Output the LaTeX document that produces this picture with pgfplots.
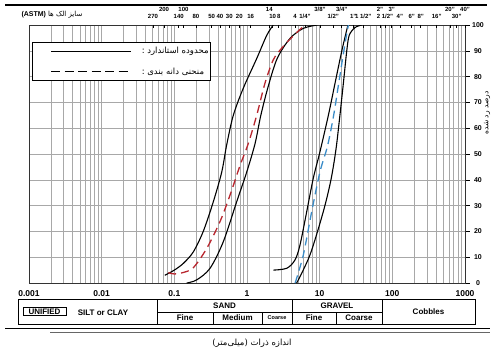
\documentclass[border=0pt]{standalone}
\usepackage{fontspec}
\setmainfont{Liberation Sans}
\newfontfamily\fa[Script=Arabic]{DejaVu Sans}
\usepackage{pgfplots}
\pgfplotsset{compat=1.18}
\TeXXeTstate=1
\definecolor{rd}{HTML}{B8262E}
\definecolor{bl}{HTML}{3A8CC8}
\definecolor{gridc}{HTML}{A8A8A8}
\newcommand\fs[1]{\fontsize{#1}{#1}\selectfont}
\begin{document}
\begin{tikzpicture}[x=1pt,y=1pt]
\useasboundingbox (0,0) rectangle (492,354);
% frame lines
\draw[line width=1.3pt] (5,349) -- (487,349);
\draw[line width=1.3pt] (5,25.2) -- (490,25.2);
\draw[line width=0.5pt, black!60] (50,22.2) -- (490,22.2);
% top-left label
\node[inner sep=0pt] at (52,339) {\fs{7}\beginR{\fa سایز الک ها} \beginL{\bfseries (ASTM)}\endL\endR};

\begin{axis}[
  at={(29pt,71pt)}, anchor=south west,
  scale only axis, width=436pt, height=258pt,
  xmode=log, xmin=0.001, xmax=1000, ymin=0, ymax=100,
  xtick={0.001,0.01,0.1,1,10,100,1000},
  xticklabels={0.001,0.01,0.1,1,10,100,1000},
  xticklabel style={font=\bfseries\fs{8.5}, anchor=center, yshift=-6pt, inner sep=0pt},
  ytick={0,10,20,30,40,50,60,70,80,90,100},
  yticklabels={0,10,20,30,40,50,60,70,80,90,100},
  yticklabel pos=right, ytick pos=right, xtick pos=bottom,
  yticklabel style={font=\bfseries\fs{7}, anchor=center, xshift=8pt, inner sep=0pt},
  xmajorgrids, xminorgrids, ymajorgrids,
  grid style={gridc, line width=0.5pt},
  minor grid style={gridc, line width=0.5pt},
  xtick style={draw=none},
  ytick style={black, line width=0.6pt},
  major tick length=5pt, tick align=outside,
  axis line style={black!80, line width=0.6pt},
  legend style={at={(0.0069,0.935)}, anchor=north west, draw=black, line width=1.3pt,
    fill=white, inner xsep=2pt, inner ysep=5pt, nodes={inner sep=0pt},
    column sep=10pt, row sep=12.5pt, font=\fa\fs{8.5}, cells={anchor=west}},
  legend image code/.code={\path (0pt,0pt); \draw[#1] (16pt,0pt) -- (96pt,0pt);},
]
\addlegendimage{black, line width=1.1pt}
\addlegendentry{\beginR محدوده استاندارد :\endR}
\addlegendimage{black, line width=1.1pt, dash pattern=on 9pt off 4.5pt}
\addlegendentry{\beginR منحنی دانه بندی :\endR}

% sand envelope (left)
\addplot[black, line width=1.1pt, smooth, forget plot] coordinates {
(0.074,3) (0.100,5) (0.133,7.6) (0.182,12) (0.25,20) (0.344,31.5) (0.449,43)
(0.525,53.5) (0.648,65) (0.889,75.5) (1.36,87) (1.87,96) (2.3,100)};
% sand envelope (right)
\addplot[black, line width=1.1pt, smooth, forget plot] coordinates {
(0.148,0) (0.203,1.2) (0.31,5.7) (0.472,16) (0.721,31.5) (0.991,43) (1.29,54)
(1.55,65) (1.95,76) (2.6,87) (3.91,94.8) (5.96,98.7) (9.3,100)};
% sand grading curve
\addplot[rd, line width=1.3pt, dash pattern=on 8pt off 5pt, smooth, forget plot] coordinates {
(0.0826,4) (0.1,3.5) (0.13,4) (0.182,5.9) (0.279,13.4) (0.425,23.8) (0.583,34)
(0.801,45.5) (1.04,54) (1.36,65) (1.77,77.5) (2.3,86.5) (3.0,91) (3.91,94.5)
(5.0,97.5) (6.3,100)};
% gravel envelope (left)
\addplot[black, line width=1.1pt, smooth, forget plot] coordinates {
(2.30,5) (3.52,5.7) (4.57,8.9) (5.36,14.7) (6.63,27.6) (8.17,40.6) (10.1,50.9)
(13.2,65.1) (16.4,77.9) (20.4,90.6) (24.5,100)};
% gravel envelope (right)
\addplot[black, line width=1.1pt, smooth, forget plot] coordinates {
(4.83,0) (7.36,10.9) (11.2,27.6) (14.3,40) (16.8,52) (19.0,65) (21.3,78)
(23.6,90) (25.5,96) (30.6,99) (37.9,100)};
% gravel grading curve
\addplot[bl, line width=1.3pt, dash pattern=on 8pt off 5pt, smooth, forget plot] coordinates {
(4.6,0) (5.96,10.9) (7.76,27.6) (10.1,43.1) (12.8,53) (15.6,65.1) (18.4,77.9)
(21.7,90.6) (24.8,100)};
\end{axis}

% sieve labels, lower row
\begin{axis}[at={(29pt,71pt)}, anchor=south west, scale only axis,
  width=436pt, height=258pt, xmode=log, xmin=0.001, xmax=1000, ymin=0, ymax=100,
  axis y line=none, axis x line*=top, x axis line style={draw=none},
  xtick style={black, line width=0.5pt},
  major tick length=3pt, tick align=inside,
  xticklabel style={font=\bfseries\fs{6}, anchor=center, inner sep=0pt, yshift=9pt},
  xtick={0.0508,0.1148,0.1986,0.3266,0.4249,0.571,0.783,1.125,2.255,2.73,4.57,6.28,15.4,29.0,39.8,79.3,127,184.6,245.6,407.6,768},
  xticklabels={270,140,80,50,40,30,20,16,10,8,4,1/4",1/2",1",1 1/2",2 1/2",4",6",8",16",30"}]
\end{axis}
% sieve labels, upper row
\begin{axis}[at={(29pt,71pt)}, anchor=south west, scale only axis,
  width=436pt, height=258pt, xmode=log, xmin=0.001, xmax=1000, ymin=0, ymax=100,
  axis y line=none, axis x line*=top, x axis line style={draw=none},
  xtick style={black, line width=0.5pt},
  major tick length=3pt, tick align=inside,
  xticklabel style={font=\bfseries\fs{6}, anchor=center, inner sep=0pt, yshift=16pt},
  xtick={0.0721,0.1334,2.027,10.1,20.1,67.6,98,621,1000},
  xticklabels={200,100,14,3/8",3/4",2",3",20",40"}]
\end{axis}

% right axis title
\node[rotate=90, inner sep=0pt] at (487,241) {\fa\fs{7.5}\beginR درصد رد شده\endR};

% classification table
\begin{scope}[line width=0.8pt]
\draw (18,30) rectangle (475,54.5);
\draw (157,30) -- (157,54.5);
\draw (292,30) -- (292,54.5);
\draw (382,30) -- (382,54.5);
\draw (157,42) -- (382,42);
\draw (213,30) -- (213,42);
\draw (262,30) -- (262,42);
\draw (336,30) -- (336,42);
\draw (23,38.2) rectangle (66,46.5);
\end{scope}
\begin{scope}[every node/.style={inner sep=0pt, font=\bfseries\fs{8}}]
\node at (44.5,42.3) {UNIFIED};
\node at (103,41.5) {SILT or CLAY};
\node at (224.5,48.2) {SAND};
\node at (337,48.2) {GRAVEL};
\node at (185,36) {Fine};
\node at (237.5,36) {Medium};
\node[font=\bfseries\fs{5.5}] at (277,36) {Coarse};
\node at (314,36) {Fine};
\node at (359,36) {Coarse};
\node at (428.5,42) {Cobbles};
\end{scope}

% bottom title
\node[inner sep=0pt] at (252,11) {\fa\fs{8.5}\beginR اندازه ذرات (میلی‌متر)\endR};
\end{tikzpicture}
\end{document}
